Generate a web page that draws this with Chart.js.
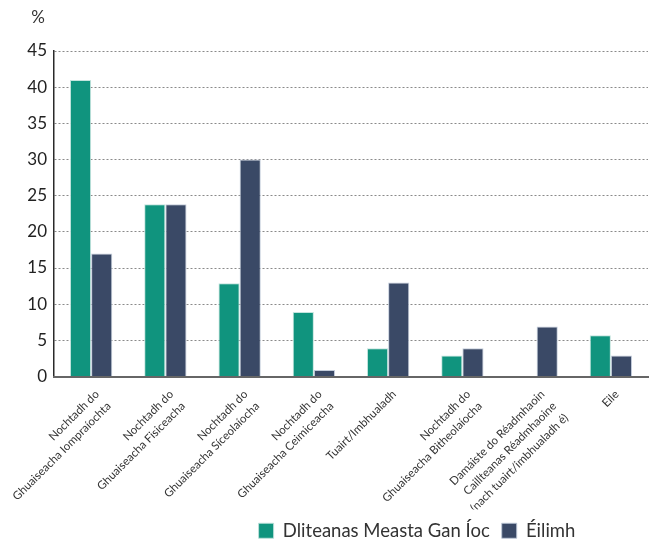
<!DOCTYPE html>
<html>
<head>
<meta charset="utf-8">
<script src="https://cdn.jsdelivr.net/npm/chart.js@4"></script>
<style>
  html, body { margin: 0; padding: 0; background: #fff; }
  #wrap { width: 656px; height: 540px; }
</style>
</head>
<body>
<div id="wrap"><canvas id="grafico" width="656" height="540"></canvas></div>
<script>
const catLabels = [
  ['Nochtadh do', 'Ghuaiseacha Iompraíochta'],
  ['Nochtadh do', 'Ghuaiseacha Fisiceacha'],
  ['Nochtadh do', 'Ghuaiseacha Síceolaíocha'],
  ['Nochtadh do', 'Ghuaiseacha Ceimiceacha'],
  'Tuairt/Imbhualadh',
  ['Nochtadh do', 'Ghuaiseacha Bitheolaíocha'],
  ['Damáiste do Réadmhaoin', 'Caillteanas Réadmhaoine', '(nach tuairt/imbhualadh é)'],
  'Eile'
];
const dliteanas = [41, 23.8, 12.9, 8.9, 3.9, 2.9, 0, 5.7];
const eilimh = [17, 23.8, 30, 0.9, 13, 3.9, 6.9, 2.9];
const seriesNames = ['Dliteanas Measta Gan Íoc', 'Éilimh'];
const yMax = 45;
const yStep = 5;
const unitLabel = '%';

const FONT = 'Lato, "Open Sans", sans-serif';

// "%" over the y axis
const unitPlugin = {
  id: 'unitLabel',
  afterDraw(chart) {
    const c = chart.ctx;
    c.save();
    c.font = '17px ' + FONT;
    c.fillStyle = '#333';
    c.textAlign = 'right';
    c.textBaseline = 'middle';
    c.fillText(unitLabel, chart.chartArea.left - 9, 18);
    c.restore();
  }
};

// legend sits right of centre in the original
const legendShift = {
  id: 'legendShift',
  afterLayout(chart) {
    chart.legend.left += 93;
    chart.legend.right += 93;
  }
};

const ctx = document.getElementById('grafico').getContext('2d');
new Chart(ctx, {
  type: 'bar',
  data: {
    labels: catLabels,
    datasets: [{
      label: seriesNames[0],
      data: dliteanas,
      backgroundColor: '#10947e',
      borderColor: 'rgba(190,225,218,0.9)',
      borderWidth: 1,
      categoryPercentage: 0.57,
      barPercentage: 1
    }, {
      label: seriesNames[1],
      data: eilimh,
      backgroundColor: '#3a4966',
      borderColor: 'rgba(190,200,215,0.9)',
      borderWidth: 1,
      categoryPercentage: 0.57,
      barPercentage: 1
    }]
  },
  options: {
    responsive: false,
    animation: false,
    layout: { padding: { top: 51, right: 8, left: 0, bottom: -10 } },
    plugins: {
      legend: {
        position: 'bottom',
        labels: {
          font: { family: FONT, size: 18.5 },
          color: '#333',
          boxWidth: 15,
          boxHeight: 15,
          padding: 12
        }
      },
      tooltip: { enabled: false }
    },
    scales: {
      y: {
        min: 0,
        max: yMax,
        ticks: {
          stepSize: yStep,
          color: '#222',
          padding: 7,
          font: { family: FONT, size: 17 }
        },
        grid: {
          color: '#8a8a8a',
          drawTicks: false
        },
        border: { display: true, color: '#2a2a2a', width: 1.5, dash: [2, 2] },
        afterFit(scale) { scale.width = 54; }
      },
      x: {
        ticks: {
          color: '#333',
          minRotation: 45,
          maxRotation: 45,
          autoSkip: false,
          padding: 2,
          labelOffset: 6,
          font: { family: FONT, size: 11.5, lineHeight: 1.45 }
        },
        grid: { display: false },
        border: { display: true, color: '#666', width: 2 },
        afterFit(scale) {
          scale.height = 133;
          scale.paddingLeft = 0;
          scale.paddingRight = 0;
        }
      }
    }
  },
  plugins: [unitPlugin, legendShift]
});
</script>
</body>
</html>
